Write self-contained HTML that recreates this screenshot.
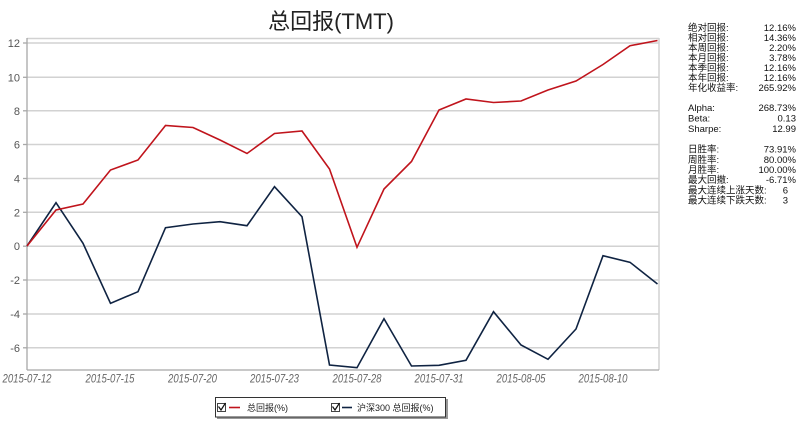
<!DOCTYPE html>
<html><head><meta charset="utf-8"><style>
html,body{margin:0;padding:0;background:#fff;}
svg{display:block;}
</style></head><body>
<svg width="800" height="426" viewBox="0 0 800 426" xmlns="http://www.w3.org/2000/svg">
<rect width="800" height="426" fill="#fff"/>
<!-- title -->
<text x="331" y="29" text-anchor="middle" font-size="22" fill="#222" font-family="Liberation Sans, Noto Sans CJK SC, sans-serif">总回报(TMT)</text>
<!-- gridlines -->
<g stroke="#d2d2d2" stroke-width="1.5">
<line x1="27" y1="38.5" x2="659" y2="38.5"/>
<line x1="27" y1="43" x2="659" y2="43"/>
<line x1="27" y1="77.3" x2="659" y2="77.3"/>
<line x1="27" y1="110.8" x2="659" y2="110.8"/>
<line x1="27" y1="144.5" x2="659" y2="144.5"/>
<line x1="27" y1="178.5" x2="659" y2="178.5"/>
<line x1="27" y1="212.3" x2="659" y2="212.3"/>
<line x1="27" y1="246.2" x2="659" y2="246.2"/>
<line x1="27" y1="280" x2="659" y2="280"/>
<line x1="27" y1="314" x2="659" y2="314"/>
<line x1="27" y1="347.8" x2="659" y2="347.8"/>
<line x1="659" y1="38" x2="659" y2="370"/>
</g>
<!-- axes -->
<g stroke="#a8a8a8" stroke-width="1.3">
<line x1="27" y1="38" x2="27" y2="370"/>
<line x1="27" y1="370" x2="659" y2="370"/>
<line x1="23" y1="43" x2="27" y2="43"/>
<line x1="23" y1="77.3" x2="27" y2="77.3"/>
<line x1="23" y1="110.8" x2="27" y2="110.8"/>
<line x1="23" y1="144.5" x2="27" y2="144.5"/>
<line x1="23" y1="178.5" x2="27" y2="178.5"/>
<line x1="23" y1="212.3" x2="27" y2="212.3"/>
<line x1="23" y1="246.2" x2="27" y2="246.2"/>
<line x1="23" y1="280" x2="27" y2="280"/>
<line x1="23" y1="314" x2="27" y2="314"/>
<line x1="23" y1="347.8" x2="27" y2="347.8"/>
</g>
<!-- y labels -->
<g font-family="Liberation Sans, sans-serif" font-size="11" fill="#555" text-anchor="end">
<text x="20" y="47">12</text>
<text x="20" y="81.3">10</text>
<text x="20" y="114.8">8</text>
<text x="20" y="148.5">6</text>
<text x="20" y="182.5">4</text>
<text x="20" y="216.3">2</text>
<text x="20" y="250.2">0</text>
<text x="20" y="284">-2</text>
<text x="20" y="318">-4</text>
<text x="20" y="351.8">-6</text>
</g>
<!-- x labels -->
<g font-family="Liberation Sans, sans-serif" font-size="11.5" font-style="italic" fill="#666" text-anchor="middle">
<text x="27" y="382.5" textLength="49" lengthAdjust="spacingAndGlyphs">2015-07-12</text>
<text x="110" y="382.5" textLength="49" lengthAdjust="spacingAndGlyphs">2015-07-15</text>
<text x="192.5" y="382.5" textLength="49" lengthAdjust="spacingAndGlyphs">2015-07-20</text>
<text x="274.5" y="382.5" textLength="49" lengthAdjust="spacingAndGlyphs">2015-07-23</text>
<text x="357" y="382.5" textLength="49" lengthAdjust="spacingAndGlyphs">2015-07-28</text>
<text x="439" y="382.5" textLength="49" lengthAdjust="spacingAndGlyphs">2015-07-31</text>
<text x="521" y="382.5" textLength="49" lengthAdjust="spacingAndGlyphs">2015-08-05</text>
<text x="603" y="382.5" textLength="49" lengthAdjust="spacingAndGlyphs">2015-08-10</text>
</g>
<!-- series -->
<polyline fill="none" stroke="#0f2342" stroke-width="1.6" stroke-linejoin="miter" points="27,246 56,202.7 83,243.3 110.5,303.3 138,291.7 165.5,227.7 193,224 220,221.7 247,225.7 274.5,186.7 302,216.7 329.5,365 357,367.7 384,318.7 411.5,366 439,365.3 466,360.3 493.5,311.7 521,345 548,359.3 576,329 603,255.7 630,262.3 657.5,284"/>
<polyline fill="none" stroke="#c0141c" stroke-width="1.6" stroke-linejoin="miter" points="27,246 56,210 83,204 110.5,170 138,160 165.5,125.5 193,127.5 220,140 247,153.5 274.5,133.5 302,131 329.5,169 357,247.3 384,189 411.5,161.5 439,110 466,99 493.5,102.5 521,101 548,90 576,81 603,64.5 630,45.7 657.5,40.5"/>
<!-- right stats panel -->
<g font-family="Liberation Sans, Noto Sans CJK SC, sans-serif" font-size="9.5" fill="#111">
<text x="688" y="31">绝对回报:</text>
<text x="688" y="41">相对回报:</text>
<text x="688" y="51">本周回报:</text>
<text x="688" y="61">本月回报:</text>
<text x="688" y="71">本季回报:</text>
<text x="688" y="81">本年回报:</text>
<text x="688" y="91">年化收益率:</text>
<text x="688" y="111">Alpha:</text>
<text x="688" y="121.5">Beta:</text>
<text x="688" y="132">Sharpe:</text>
<text x="688" y="152.5">日胜率:</text>
<text x="688" y="163">周胜率:</text>
<text x="688" y="173">月胜率:</text>
<text x="688" y="183">最大回撤:</text>
<text x="688" y="193.5">最大连续上涨天数:</text>
<text x="688" y="203.5">最大连续下跌天数:</text>
</g>
<g font-family="Liberation Sans, sans-serif" font-size="9.5" fill="#111" text-anchor="end">
<text x="796" y="31">12.16%</text>
<text x="796" y="41">14.36%</text>
<text x="796" y="51">2.20%</text>
<text x="796" y="61">3.78%</text>
<text x="796" y="71">12.16%</text>
<text x="796" y="81">12.16%</text>
<text x="796" y="91">265.92%</text>
<text x="796" y="111">268.73%</text>
<text x="796" y="121.5">0.13</text>
<text x="796" y="132">12.99</text>
<text x="796" y="152.5">73.91%</text>
<text x="796" y="163">80.00%</text>
<text x="796" y="173">100.00%</text>
<text x="796" y="183">-6.71%</text>
<text x="788" y="193.5">6</text>
<text x="788" y="203.5">3</text>
</g>
<!-- legend -->
<rect x="217" y="399" width="231" height="20" fill="#999"/>
<rect x="215.5" y="397.5" width="230" height="19.5" fill="#fff" stroke="#333" stroke-width="1"/>
<rect x="217.5" y="403.5" width="8" height="8" fill="#fff" stroke="#444" stroke-width="1"/>
<path d="M218.5,406.5 L221,410 L225.5,403" fill="none" stroke="#111" stroke-width="1.2"/>
<line x1="229" y1="407.5" x2="240" y2="407.5" stroke="#c0141c" stroke-width="1.6"/>
<text x="247" y="411" font-size="9" fill="#222" font-family="Liberation Sans, Noto Sans CJK SC, sans-serif">总回报(%)</text>
<rect x="331.5" y="403.5" width="8" height="8" fill="#fff" stroke="#444" stroke-width="1"/>
<path d="M332.5,406.5 L335,410 L339.5,403" fill="none" stroke="#111" stroke-width="1.2"/>
<line x1="342" y1="407.5" x2="352" y2="407.5" stroke="#0f2342" stroke-width="1.6"/>
<text x="357" y="411" font-size="9" fill="#222" font-family="Liberation Sans, Noto Sans CJK SC, sans-serif">沪深300 总回报(%)</text>
</svg>
</body></html>
